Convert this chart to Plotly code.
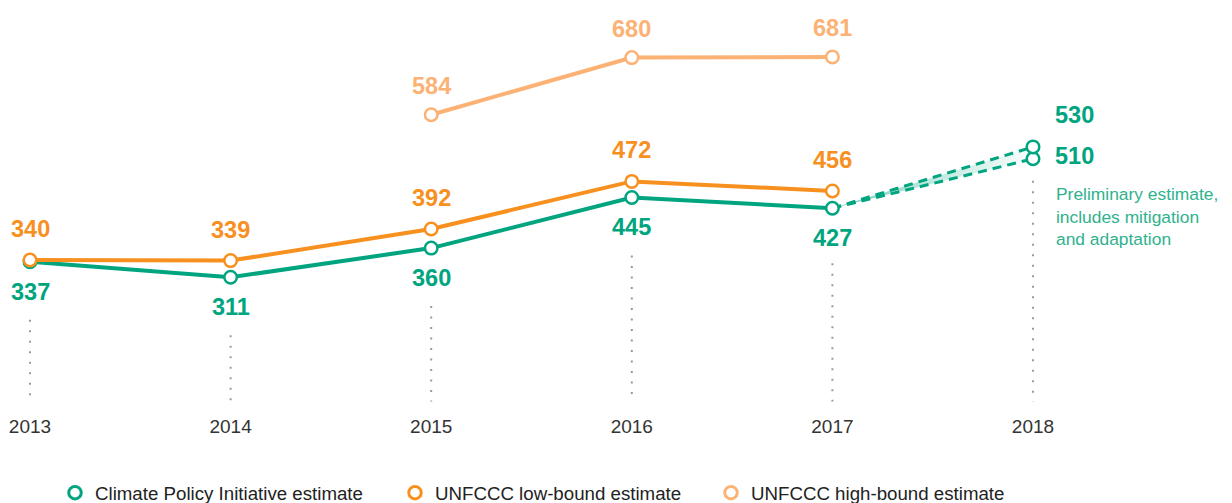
import plotly.graph_objects as go

# ---------------- data ----------------
years = [2013, 2014, 2015, 2016, 2017]
cpi_values = [337, 311, 360, 445, 427]
unfccc_low_values = [340, 339, 392, 472, 456]
high_years = [2015, 2016, 2017]
unfccc_high_values = [584, 680, 681]
prelim_years = [2017, 2018]
prelim_low_values = [427, 510]
prelim_high_values = [427, 530]
tick_years = [2013, 2014, 2015, 2016, 2017, 2018]
series_names = ["Climate Policy Initiative estimate", "UNFCCC low-bound estimate",
                "UNFCCC high-bound estimate"]
note_text = "Preliminary estimate,<br>includes mitigation<br>and adaptation"

# ---------------- style ----------------
GREEN = "#00A580"
ORANGE = "#F7901E"
LORANGE = "#FDB275"
NOTE_GREEN = "#2FB28E"
GREY_DOT = "#9a9a9a"
FONT = "Liberation Sans, Arial, sans-serif"
W, H = 1232, 503
MT, MB = 0, 98
PLOT_H = H - MT - MB
Y_RANGE = [83.0, 763.3]
X_RANGE = [2012.8903, 2019.0319]
px_per_unit = PLOT_H / (Y_RANGE[1] - Y_RANGE[0])
DOT_BOTTOM = 102.5
LABEL_FONT = dict(family=FONT, size=23.5, weight="bold")

fig = go.Figure()

# fill between preliminary dashed lines
fig.add_trace(go.Scatter(x=prelim_years, y=prelim_low_values, mode="lines",
                         line=dict(color=GREEN, width=3, dash="9px,6px"),
                         showlegend=False, hoverinfo="skip"))
fig.add_trace(go.Scatter(x=prelim_years, y=prelim_high_values, mode="lines",
                         line=dict(color=GREEN, width=3, dash="9px,6px"),
                         fill="tonexty",
                         fillgradient=dict(type="horizontal",
                                           colorscale=[[0, "rgba(0,165,128,0.55)"],
                                                       [0.5, "rgba(0,165,128,0.25)"],
                                                       [1, "rgba(0,165,128,0.02)"]]),
                         showlegend=False, hoverinfo="skip"))


def marker_style(c):
    return dict(size=12.5, color="white", line=dict(color=c, width=2.5))


fig.add_trace(go.Scatter(x=high_years, y=unfccc_high_values, mode="lines+markers",
                         line=dict(color=LORANGE, width=4), marker=marker_style(LORANGE),
                         showlegend=False, cliponaxis=False))
fig.add_trace(go.Scatter(x=years, y=cpi_values, mode="lines+markers",
                         line=dict(color=GREEN, width=4), marker=marker_style(GREEN),
                         showlegend=False, cliponaxis=False))
fig.add_trace(go.Scatter(x=years, y=unfccc_low_values, mode="lines+markers",
                         line=dict(color=ORANGE, width=4), marker=marker_style(ORANGE),
                         showlegend=False, cliponaxis=False))
fig.add_trace(go.Scatter(x=[prelim_years[1], prelim_years[1]],
                         y=[prelim_low_values[1], prelim_high_values[1]],
                         mode="markers", marker=marker_style(GREEN),
                         showlegend=False, cliponaxis=False))

# legend-only traces
legend_colors = [GREEN, ORANGE, LORANGE]
legend_ids = ["legend", "legend2", "legend3"]
for name, col, lid in zip(series_names, legend_colors, legend_ids):
    fig.add_trace(go.Scatter(x=[None], y=[None], mode="markers", name=name,
                             marker=dict(size=12.5, color="white", line=dict(color=col, width=3)),
                             legend=lid))

# value labels
anns = []
for x, v in zip(years, unfccc_low_values):
    anns.append(dict(x=x, y=v, text=str(v), yshift=31, font=dict(color=ORANGE, **LABEL_FONT)))
for x, v in zip(years, cpi_values):
    anns.append(dict(x=x, y=v, text=str(v), yshift=-30, font=dict(color=GREEN, **LABEL_FONT)))
for x, v in zip(high_years, unfccc_high_values):
    anns.append(dict(x=x, y=v, text=str(v), yshift=29, font=dict(color=LORANGE, **LABEL_FONT)))
anns.append(dict(x=prelim_years[1], y=prelim_high_values[1], text=str(prelim_high_values[1]),
                 xanchor="left", xshift=20, yshift=32, font=dict(color=GREEN, **LABEL_FONT)))
anns.append(dict(x=prelim_years[1], y=prelim_low_values[1], text=str(prelim_low_values[1]),
                 xanchor="left", xshift=20, yshift=3, font=dict(color=GREEN, **LABEL_FONT)))
anns.append(dict(x=prelim_years[1], y=prelim_low_values[1], text=note_text, align="left",
                 xanchor="left", yanchor="top", xshift=21, yshift=-23,
                 font=dict(color=NOTE_GREEN, size=17.4, family=FONT)))
for a in anns:
    a.update(xref="x", yref="y", showarrow=False)
fig.update_layout(annotations=anns)

# dotted guide lines
lows = [min(c, u) for c, u in zip(cpi_values, unfccc_low_values)] + [prelim_low_values[1]]
gaps_px = [58, 58, 58, 58, 55, 22]
shapes = []
for x, lo, g in zip(tick_years, lows, gaps_px):
    shapes.append(dict(type="line", xref="x", yref="y", x0=x, x1=x,
                       y0=lo - g / px_per_unit, y1=DOT_BOTTOM, layer="below",
                       line=dict(color=GREY_DOT, width=2, dash="2px,8.5px")))
fig.update_layout(shapes=shapes)

legend_common = dict(orientation="h", yanchor="middle", y=-0.1975, xanchor="left",
                     bgcolor="rgba(0,0,0,0)",
                     font=dict(size=18.7, color="#222", family=FONT))
fig.update_layout(
    width=W, height=H,
    margin=dict(l=0, r=0, t=MT, b=MB, autoexpand=False),
    paper_bgcolor="white", plot_bgcolor="white",
    xaxis=dict(range=X_RANGE, tickvals=tick_years, ticktext=[str(t) for t in tick_years],
               showgrid=False, zeroline=False, showline=False, ticks="",
               tickfont=dict(size=19, color="#333", family=FONT),
               ticklabelstandoff=0),
    yaxis=dict(range=Y_RANGE, visible=False, showgrid=False, zeroline=False),
    legend=dict(x=47 / W, **legend_common),
    legend2=dict(x=387 / W, **legend_common),
    legend3=dict(x=703 / W, **legend_common),
    hovermode=False,
)

fig.write_html("out.html")
